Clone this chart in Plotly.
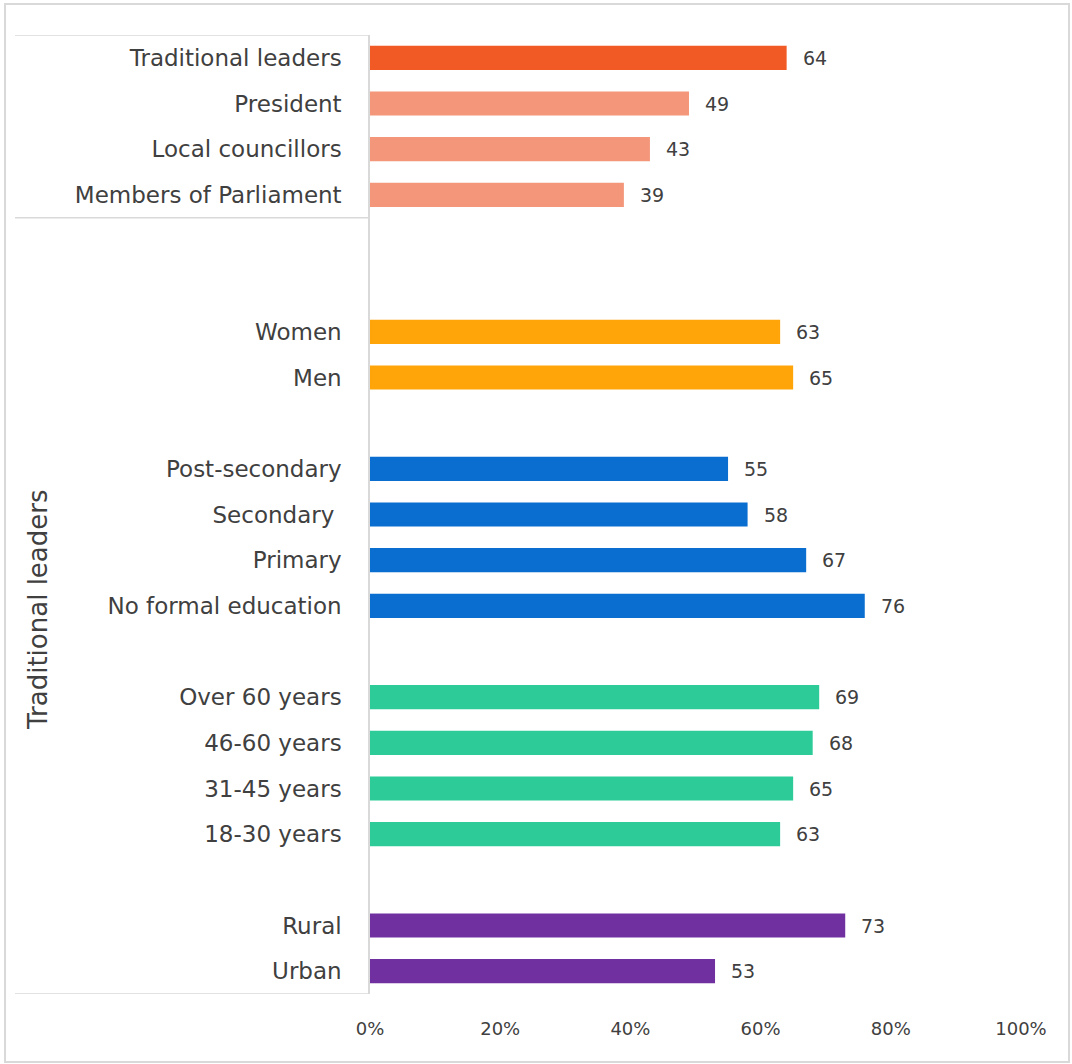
import plotly.graph_objects as go

# ---- data ----
leaders = ["Traditional leaders", "President", "Local councillors", "Members of Parliament"]
leader_vals = [64, 49, 43, 39]
gender = ["Women", "Men"]
gender_vals = [63, 65]
education = ["Post-secondary", "Secondary ", "Primary", "No formal education"]
education_vals = [55, 58, 67, 76]
age = ["Over 60 years", "46-60 years", "31-45 years", "18-30 years"]
age_vals = [69, 68, 65, 63]
location = ["Rural", "Urban"]
location_vals = [73, 53]
group_label = "Traditional leaders"
x_ticks = [0, 20, 40, 60, 80, 100]
x_ticktext = ["0%", "20%", "40%", "60%", "80%", "100%"]

# gap (in blank slots) before each group
groups = [
    (leaders, leader_vals, ["#F15A24", "#F4967A", "#F4967A", "#F4967A"], 0),
    (gender, gender_vals, ["#FFA50A"] * 2, 2),
    (education, education_vals, ["#0A6ED1"] * 4, 1),
    (age, age_vals, ["#2CCB97"] * 4, 1),
    (location, location_vals, ["#7030A0"] * 2, 1),
]

FONT = "'DejaVu Sans', sans-serif"
TXT = "#404040"

fig = go.Figure()
tickvals, ticktext = [], []
annotations = []
slot = 0
for names, vals, cols, gap in groups:
    slot += gap
    pos = list(range(slot, slot + len(names)))
    slot += len(names)
    fig.add_trace(go.Bar(
        x=vals, y=pos, orientation="h", width=0.53,
        marker=dict(color=cols, line=dict(width=0)),
        hoverinfo="x+y", showlegend=False,
    ))
    tickvals += pos
    ticktext += names
    for p, v in zip(pos, vals):
        annotations.append(dict(
            x=v, y=p, xref="x", yref="y", text=str(v), showarrow=False,
            xanchor="left", xshift=14, font=dict(family=FONT, size=19, color=TXT),
        ))

n_slots = slot
PW, PL = 651, 370
PT, PB = 35, 994
PH = PB - PT

def px_x(px):
    return (px - PL) / PW

def px_y(py):
    return (PB - py) / PH

shapes = [
    # outer border
    dict(type="rect", xref="paper", yref="paper",
         x0=px_x(5), x1=px_x(1069), y0=px_y(1062), y1=px_y(4),
         line=dict(color="#D9D9D9", width=2), layer="below"),
]
# category group divider lines
for yv in [-0.5, len(leaders) - 0.5, n_slots - 0.5]:
    shapes.append(dict(type="line", xref="paper", yref="y",
                       x0=px_x(15), x1=0, y0=yv, y1=yv,
                       line=dict(color="#D9D9D9", width=1.5)))

annotations.append(dict(
    x=px_x(38), y=px_y(610), xref="paper", yref="paper", text=group_label,
    textangle=-90, showarrow=False, xanchor="center", yanchor="middle",
    font=dict(family=FONT, size=26, color=TXT),
))

fig.update_layout(
    width=1072, height=1064,
    margin=dict(l=PL, r=1072 - PL - PW, t=PT, b=1064 - PB),
    paper_bgcolor="white", plot_bgcolor="white",
    bargap=0.47,
    shapes=shapes, annotations=annotations,
    font=dict(family=FONT, color=TXT),
)
fig.update_xaxes(
    range=[0, 100], tickvals=x_ticks, ticktext=x_ticktext,
    showgrid=False, zeroline=False, showline=False,
    tickfont=dict(family=FONT, size=18, color=TXT),
    ticks="", ticklabelstandoff=22,
)
fig.update_yaxes(
    range=[n_slots - 0.5, -0.5], tickvals=tickvals, ticktext=ticktext,
    showgrid=False, zeroline=False, showline=True, linecolor="#D9D9D9", linewidth=1.5,
    tickfont=dict(family=FONT, size=23, color=TXT),
    ticks="", ticklabelstandoff=22,
)

fig.write_html("out.html")
